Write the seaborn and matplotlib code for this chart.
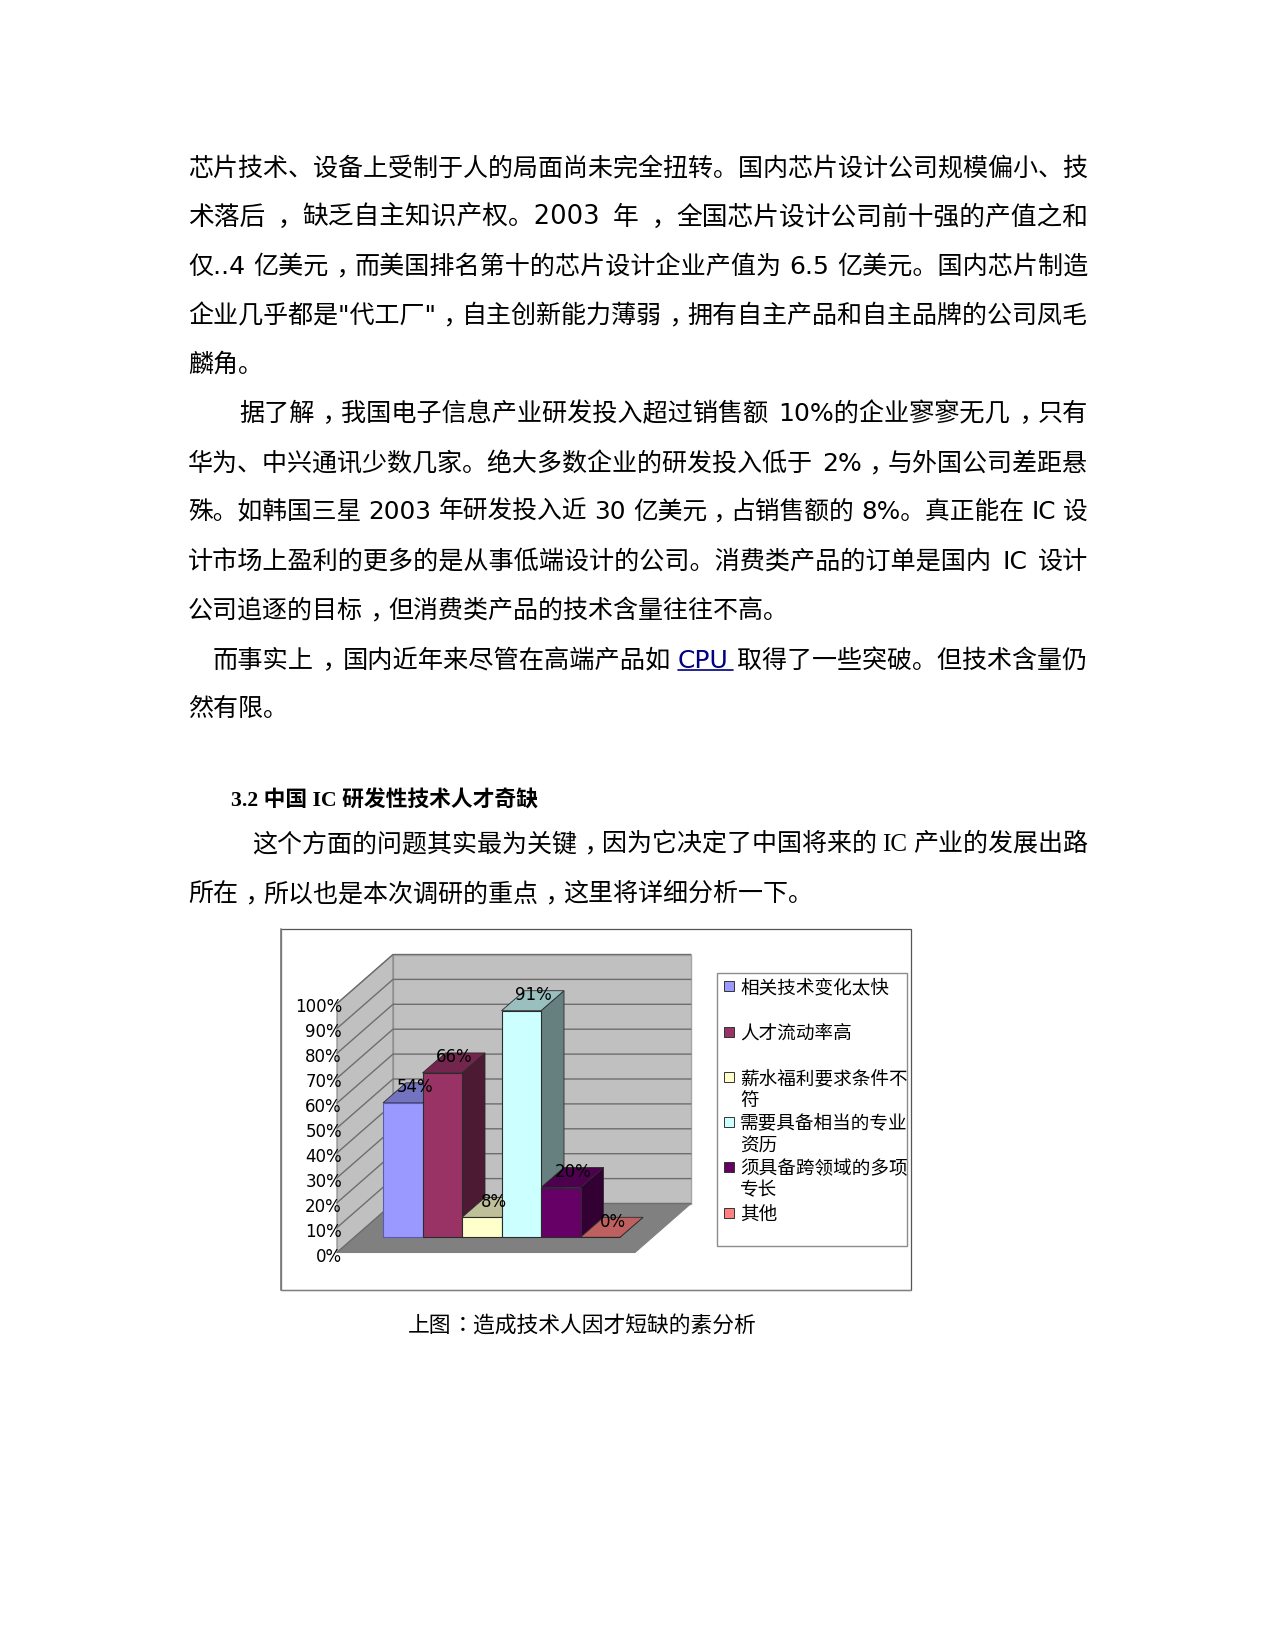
import re
import matplotlib
matplotlib.use('Agg')
import matplotlib.pyplot as plt
import seaborn as sns
from matplotlib.patches import Polygon, Rectangle

# chart data
categories = ['相关技术变化太快', '人才流动率高', '薪水福利要求条件不符', '需要具备相当的专业资历', '须具备跨领域的多项专长', '其他']
values = [54, 66, 8, 91, 20, 0]
value_labels = ['54%', '66%', '8%', '91%', '20%', '0%']
ticks = [0, 10, 20, 30, 40, 50, 60, 70, 80, 90, 100]
legend_lines = [['相关技术变化太快'], ['人才流动率高'], ['薪水福利要求条件不', '符'],
                ['需要具备相当的专业', '资历'], ['须具备跨领域的多项', '专长'], ['其他']]
front_colors = ['#9999FF', '#993366', '#FFFFCC', '#CCFFFF', '#660066', '#FF8080']
top_colors = ['#7373BF', '#73264D', '#BFBF99', '#99BFBF', '#4D004D', '#BF6060']
side_colors = ['#4D4D80', '#4D1A33', '#808066', '#668080', '#330033', '#804040']

# page text: (string, left x, baseline y, justified to right margin)
body_lines = [
    ('芯片技术、设备上受制于人的局面尚未完全扭转。国内芯片设计公司规模偏小、技', 188, 175, True),
    ('术落后，缺乏自主知识产权。2003 年，全国芯片设计公司前十强的产值之和', 188, 225, True),
    ('仅..4 亿美元，而美国排名第十的芯片设计企业产值为 6.5 亿美元。国内芯片制造', 188, 274, True),
    ('企业几乎都是"代工厂"，自主创新能力薄弱，拥有自主产品和自主品牌的公司凤毛', 188, 323, True),
    ('麟角。', 188, 372, False),
    ('据了解，我国电子信息产业研发投入超过销售额 10%的企业寥寥无几，只有', 239, 421, True),
    ('华为、中兴通讯少数几家。绝大多数企业的研发投入低于 2%，与外国公司差距悬', 188, 471, True),
    ('殊。如韩国三星 2003 年研发投入近 30 亿美元，占销售额的 8%。真正能在 IC 设', 188, 519, True),
    ('计市场上盈利的更多的是从事低端设计的公司。消费类产品的订单是国内 IC 设计', 188, 569, True),
    ('公司追逐的目标，但消费类产品的技术含量往往不高。', 188, 618, False),
    ('然有限。', 188, 716, False),
    ('所在，所以也是本次调研的重点，这里将详细分析一下。', 188, 901, False),
]

sans = ['DejaVu Sans', 'Noto Sans CJK SC']
serif = ['Liberation Serif', 'Noto Sans CJK SC']
body_size = 18
RIGHT = 1088
W, H = 1275, 1650

sns.set_theme(style='white')
plt.rcParams['font.family'] = sans

fig = plt.figure(figsize=(W / 100, H / 100), dpi=100, facecolor='white')
renderer = fig.canvas.get_renderer()

# full page axes in image pixels, used for the text and the chart box
page = fig.add_axes([0, 0, 1, 1], zorder=0)
page.set_xlim(0, W)
page.set_ylim(H, 0)
page.axis('off')


def put_line(text, x, y, right=None, family=sans, size=body_size, space=8):
    # the TC font has its comma mid-cell like the page, it only needs moving down to the baseline
    parts = re.findall(r'，|：| |[^，： ]+', text)
    runs = []
    pending = 0
    for part in parts:
        if part == ' ':
            pending += space
            continue
        t = page.text(x, y, part, fontsize=size, color='black', va='baseline',
                      family=['Noto Sans CJK TC'] if part in '，：' else family)
        runs.append([t, part, pending, t.get_window_extent(renderer).width])
        pending = 0
    total = sum(r[2] + r[3] for r in runs)
    extra = 0
    if right is not None:
        # part of the slack goes to a small change of size, the rest to the gaps
        scale = 1 + max(-0.03, min(0.03, 0.6 * (right - x - total) / total))
        for r in runs:
            r[0].set_fontsize(size * scale)
            r[3] *= scale
        total = sum(r[2] + r[3] for r in runs)
        if len(runs) > 1:
            extra = (right - x - total) / (len(runs) - 1)
    pos = x
    for k, (t, part, before, width) in enumerate(runs):
        pos += before + (extra if k else 0)
        t.set_x(pos)
        if part == '，':
            t.set_y(y + size * 0.44)
        pos += width


for text, x, y, justified in body_lines:
    put_line(text, x, y, RIGHT if justified else None)

# line with the link
put_line('而事实上，国内近年来尽管在高端产品如', 213, 668, right=671)
page.text(678, 668, 'CPU', fontsize=body_size, color='#000080', va='baseline')
page.plot([678, 733], [670, 670], color='#000080', lw=1.2)
put_line('取得了一些突破。但技术含量仍', 737, 668)

# heading and the line with the serif IC
page.text(231, 807, '3.2 中国 IC 研发性技术人才奇缺', fontsize=15.7, family=serif, weight='bold', color='black', va='baseline')
put_line('这个方面的问题其实最为关键，因为它决定了中国将来的 IC 产业的发展出路', 252, 851, right=RIGHT, family=serif, space=6)

put_line('上图：造成技术人因才短缺的素分析', 408, 1332, size=15.7)

# chart box
page.add_patch(Rectangle((281, 929), 630, 361, fc='white', ec='#555555', lw=0.9))
page.plot([281, 281], [929, 1290], color='#808080', lw=1.3)
page.plot([281, 911], [1290, 1290], color='#808080', lw=0.9)

# walls and floor of the 3d box
floor_y, wall_h = 1252.5, 249
back_dx, back_dy = 56, 49
x0, x1 = 337, 635
page.add_patch(Polygon([(x0 + back_dx, floor_y - back_dy), (x1 + back_dx, floor_y - back_dy),
                        (x1 + back_dx, floor_y - back_dy - wall_h), (x0 + back_dx, floor_y - back_dy - wall_h)],
                       fc='#C0C0C0', ec='#A6A6A6', lw=1))
page.add_patch(Polygon([(x0, floor_y), (x0 + back_dx, floor_y - back_dy),
                        (x0 + back_dx, floor_y - back_dy - wall_h), (x0, floor_y - wall_h)],
                       fc='#C0C0C0', ec='#808080', lw=0.8))
page.add_patch(Polygon([(x0, floor_y), (x1, floor_y), (x1 + back_dx, floor_y - back_dy), (x0 + back_dx, floor_y - back_dy)],
                       fc='#808080', ec='#808080', lw=0.8))
for tick in ticks:
    y = floor_y - tick / 100 * wall_h
    page.plot([x0, x0 + back_dx, x1 + back_dx], [y, y - back_dy, y - back_dy], color='#6E6E6E', lw=1)
    page.text(342, y + 4, f'{tick}%', fontsize=12, ha='right', va='center', color='black')

# bars, axes placed so one category is 39.5 px and 100% is the wall height
left, bottom = 383, 1237.3
ax = fig.add_axes([left / W, 1 - bottom / H, 6 * 39.5 / W, wall_h / H], zorder=1)
sns.barplot(x=categories, y=values, hue=categories, palette=front_colors, width=1, saturation=1,
            legend=False, edgecolor='#2B2B2B', linewidth=0.8, ax=ax)
ax.set_xlim(-0.5, 5.5)
ax.set_ylim(0, 100)
ax.axis('off')

# depth of a bar in data units
depth_x = 23 / 39.5
depth_y = 20 / wall_h * 100
for patch in ax.patches:
    patch.set_zorder(3)
    patch.set_clip_on(False)
ax.patches[0].set_edgecolor('#5A5AB0')

for i, v in enumerate(values):
    a, b = i - 0.5, i + 0.5
    top = [(a, v), (b, v), (b + depth_x, v + depth_y), (a + depth_x, v + depth_y)]
    side = [(b, 0), (b + depth_x, depth_y), (b + depth_x, v + depth_y), (b, v)]
    ax.add_patch(Polygon(side, fc=side_colors[i], ec='#2B2B2B', lw=0.6, zorder=2, clip_on=False))
    ax.add_patch(Polygon(top, fc=top_colors[i], ec='#2B2B2B', lw=0.6, zorder=2, clip_on=False))
    ax.annotate(value_labels[i], (i + depth_x / 2, v + depth_y / 2), xytext=(0.5, 4), textcoords='offset points',
                ha='center', va='center', fontsize=12, color='black', zorder=5, annotation_clip=False)

# legend box
page.add_patch(Rectangle((716.5, 973), 190.5, 273, fc='white', ec='#8C8C8C', lw=1, zorder=2))
swatch_y = [986, 1032, 1077, 1122, 1167, 1213]
for lines, color, y in zip(legend_lines, front_colors, swatch_y):
    page.add_patch(Rectangle((724, y - 5), 10, 10, fc=color, ec='#333333', lw=0.7, zorder=3))
    for j, line in enumerate(lines):
        page.text(740, y + 7.5 + j * 21, line, fontsize=13.4, va='baseline', color='black', zorder=3)

fig.savefig('out.png', dpi=100, facecolor='white')
